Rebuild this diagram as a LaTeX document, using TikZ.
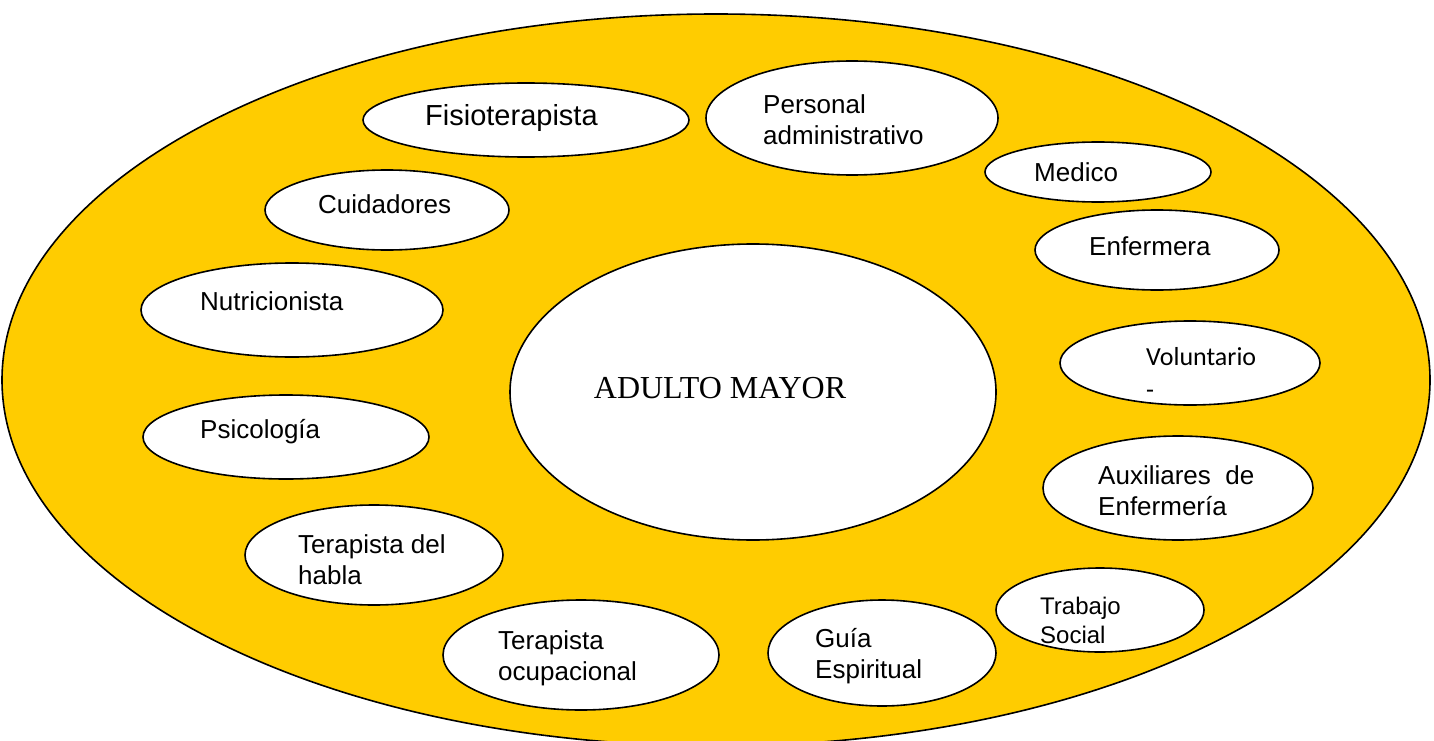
\documentclass[tikz,border=0pt]{standalone}
\usepackage{fontspec}
\setmainfont{Liberation Sans}
\newfontfamily\timesf{Liberation Serif}
\newfontfamily\calibf{Carlito}
\usetikzlibrary{shapes.geometric}
\definecolor{gold}{RGB}{255,204,0}
\tikzset{
  oval/.style={ellipse, draw=black, line width=1.6pt, fill=white, inner sep=0pt, outer sep=0pt},
  txt/.style={font=\fontsize{26}{31}\selectfont, inner sep=0pt, align=left, anchor=west},
}
\begin{document}
\begin{tikzpicture}[x=1pt,y=-1pt]
\useasboundingbox (0,0) rectangle (1434,741);
\node[ellipse, draw=black, line width=1.6pt, fill=gold, inner sep=0pt, minimum width=1428pt, minimum height=732pt] (outer) at (716,380) {};
\node[oval, minimum width=486pt, minimum height=296pt] (center) at (753,392) {};
\node[font=\timesf\fontsize{32}{36}\selectfont, inner sep=0pt] (centert) at (720,388) {ADULTO MAYOR};

\node[oval, minimum width=326pt, minimum height=74pt] (fis) at (526,120) {};
\node[txt, font=\fontsize{29}{34}\selectfont] (fist) at (425,118) {Fisioterapista};

\node[oval, minimum width=292pt, minimum height=114pt] (per) at (852,118) {};
\node[txt] (pert) at (763,120) {Personal\\administrativo};

\node[oval, minimum width=226pt, minimum height=60pt] (med) at (1098,172) {};
\node[txt] (medt) at (1034,172) {Medico};

\node[oval, minimum width=244pt, minimum height=80pt] (enf) at (1157,250) {};
\node[txt] (enft) at (1089,246) {Enfermera};

\node[oval, minimum width=260pt, minimum height=84pt] (vol) at (1190,363) {};
\node[txt, font=\calibf\fontsize{26}{33}\selectfont] (volt) at (1146,373) {Voluntario\\-};

\node[oval, minimum width=270pt, minimum height=104pt] (aux) at (1178,488) {};
\node[txt] (auxt) at (1098,491) {Auxiliares\ \ de\\Enfermería};

\node[oval, minimum width=208pt, minimum height=84pt] (tra) at (1100,610) {};
\node[txt, font=\fontsize{24}{29}\selectfont] (trat) at (1040,620) {Trabajo\\Social};

\node[oval, minimum width=228pt, minimum height=106pt] (gui) at (882,653) {};
\node[txt] (guit) at (815,656) {Guía\\Espiritual};

\node[oval, minimum width=276pt, minimum height=110pt] (ocu) at (581,655) {};
\node[txt] (ocut) at (498,658) {Terapista\\ocupacional};

\node[oval, minimum width=258pt, minimum height=100pt] (hab) at (374,555) {};
\node[txt] (habt) at (298,560) {Terapista del\\habla};

\node[oval, minimum width=286pt, minimum height=84pt] (psi) at (286,437) {};
\node[txt] (psit) at (200,432) {Psicología};

\node[oval, minimum width=302pt, minimum height=94pt] (nut) at (292,310) {};
\node[txt] (nutt) at (200,301) {Nutricionista};

\node[oval, minimum width=244pt, minimum height=80pt] (cui) at (387,210) {};
\node[txt] (cuit) at (318,204) {Cuidadores};
\end{tikzpicture}
\end{document}
